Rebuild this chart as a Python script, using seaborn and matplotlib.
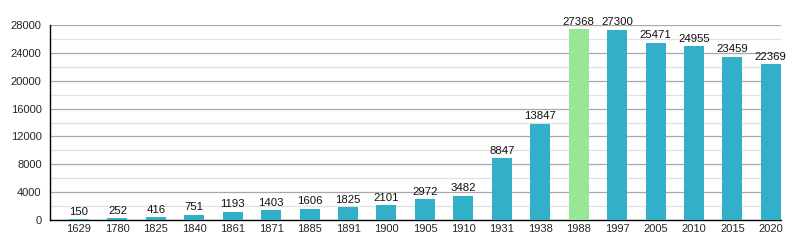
import matplotlib
matplotlib.use("Agg")
import matplotlib.pyplot as plt
import seaborn as sns
import pandas as pd
from matplotlib.ticker import MultipleLocator

years = ["1629", "1780", "1825", "1840", "1861", "1871", "1885", "1891", "1900", "1905",
         "1910", "1931", "1938", "1988", "1997", "2005", "2010", "2015", "2020"]
population = [150, 252, 416, 751, 1193, 1403, 1606, 1825, 2101, 2972,
              3482, 8847, 13847, 27368, 27300, 25471, 24955, 23459, 22369]
highlight = "1988"

df = pd.DataFrame({"year": years, "pop": population})
palette = {y: ("#98e698" if y == highlight else "#33b0c9") for y in years}

sns.set_style("white")
plt.rcParams["font.family"] = ["Liberation Sans", "DejaVu Sans"]
fig = plt.figure(figsize=(8, 2.5), dpi=100)
ax = fig.add_axes([0.0625, 0.12, 0.9135, 0.78])

sns.barplot(data=df, x="year", y="pop", hue="year", palette=palette, legend=False,
            width=0.52, ax=ax, saturation=1, linewidth=0, zorder=3)

for i, v in enumerate(population):
    ax.text(i, v + 350, str(v), ha="center", va="bottom", fontsize=8.2, color="#111111", zorder=4)

ax.set_ylim(0, 28000)
ax.set_xlim(-0.755, len(years) - 0.74)
ax.yaxis.set_major_locator(MultipleLocator(4000))
ax.yaxis.set_minor_locator(MultipleLocator(2000))
ax.grid(which="major", axis="y", color="#a8a8a8", linewidth=0.9, zorder=0)
ax.grid(which="minor", axis="y", color="#e0e0e0", linewidth=0.9, zorder=0)
ax.set_axisbelow(True)

for s in ["top", "right"]:
    ax.spines[s].set_visible(False)
ax.spines["left"].set_color("black")
ax.spines["bottom"].set_color("black")
ax.spines["left"].set_linewidth(1)
ax.spines["bottom"].set_linewidth(1)

ax.tick_params(axis="y", which="major", length=4, width=0.8, labelsize=8, color="black", pad=2)
ax.tick_params(axis="y", which="minor", length=2, width=0.8, color="black")
ax.tick_params(axis="x", length=0, labelsize=8, pad=3)
ax.set_xlabel("")
ax.set_ylabel("")

fig.savefig("out.png", dpi=100)
